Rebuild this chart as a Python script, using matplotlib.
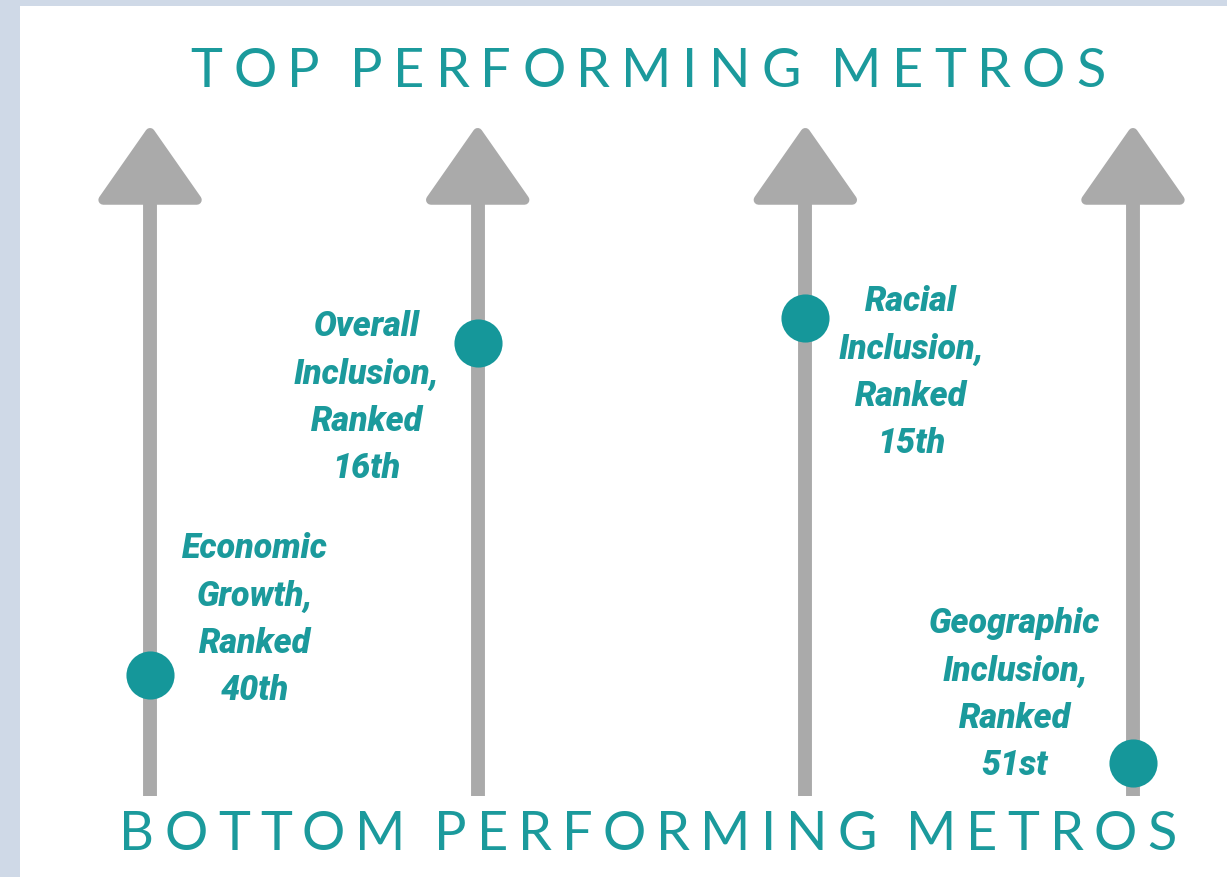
import matplotlib
matplotlib.use('Agg')
import matplotlib.pyplot as plt
from matplotlib.patches import Polygon, Rectangle

# data: how far up each arrow the metro sits (0 = bottom, 100 = top)
measures = ['Economic\nGrowth,', 'Overall\nInclusion,', 'Racial\nInclusion,', 'Geographic\nInclusion,']
ranks = ['40th', '16th', '15th', '51st']
levels = [20.4, 76.4, 80.6, 5.6]

teal = '#1b9a9c'
dot_teal = '#15979a'
grey = '#aaaaaa'

fig = plt.figure(figsize=(12.27, 8.77), dpi=100)
fig.patch.set_facecolor('#cfd9e7')
fig.patches.append(Rectangle((20 / 1227, 0), 1, 1 - 6 / 877, transform=fig.transFigure,
                             facecolor='white', edgecolor='none', zorder=-5))

ax = fig.add_axes([0, 0, 1, 1])
ax.set_facecolor('none')
ax.set_xlim(-0.458, 3.287)
ax.set_ylim(-13.66, 134.2)
ax.axis('off')

xs = range(len(levels))

# shafts + arrow heads
ax.vlines(list(xs), 0, 100, color=grey, linewidth=10, zorder=1)
for x in xs:
    head = Polygon([(x - 0.143, 100.5), (x + 0.143, 100.5), (x, 111.8)], closed=True,
                   facecolor=grey, edgecolor=grey, linewidth=7, joinstyle='round', zorder=1)
    ax.add_patch(head)

ax.scatter(list(xs), levels, s=1200, color=dot_teal, zorder=3, linewidths=0)

# label offsets in pixels (dx, dy) from each dot
offsets = [(105, 55), (-111, -55), (106, -55), (-118, 68)]
for x, lvl, m, r, (dx, dy) in zip(xs, levels, measures, ranks, offsets):
    ax.annotate(m + '\nRanked\n' + r, xy=(x, lvl), xytext=(dx, dy), textcoords='offset pixels',
                ha='center', va='center', color=teal, fontsize=24.5, family='Roboto',
                weight='black', style='italic', linespacing=1.55, zorder=4)


def spaced_text(s, cx, cy, width_px, space_px=8, **kw):
    # letters placed one by one to get the wide tracking of the original heading
    r = fig.canvas.get_renderer()
    ts = [fig.text(0, cy, ch, va='center', ha='left', **kw) for ch in s]
    ws = [t.get_window_extent(r).width if ch != ' ' else space_px for t, ch in zip(ts, s)]
    extra = (width_px - sum(ws)) / (len(s) - 1)
    x = cx * 1227 - width_px / 2
    for t, w in zip(ts, ws):
        t.set_x(x / 1227)
        x += w + extra


spaced_text('TOP PERFORMING METROS', 0.528, 0.919, 915, color=teal, fontsize=39,
            family='Lato', weight='normal')
spaced_text('BOTTOM PERFORMING METROS', 0.528, 0.048, 1057, color=teal, fontsize=39,
            family='Lato', weight='normal')

fig.savefig('out.png', dpi=100)
